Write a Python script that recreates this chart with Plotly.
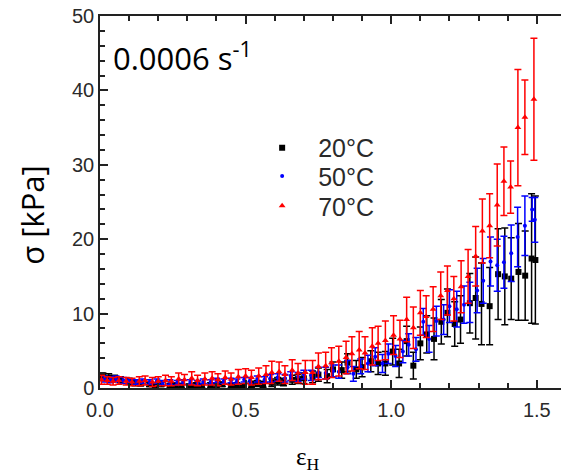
import plotly.graph_objects as go

# ---- data ----
series_names = ["20°C", "50°C", "70°C"]

x_20 = [0.01, 0.03, 0.05, 0.07, 0.10, 0.12, 0.14, 0.17,
        0.19, 0.21, 0.24, 0.26, 0.28, 0.31, 0.33, 0.35,
        0.38, 0.40, 0.42, 0.45, 0.47, 0.49, 0.52, 0.54,
        0.56, 0.59, 0.61, 0.63, 0.66, 0.68, 0.70, 0.73,
        0.75, 0.78, 0.80, 0.83, 0.85, 0.88, 0.90, 0.93,
        0.955, 0.98, 1.005, 1.027, 1.053, 1.076, 1.10, 1.122,
        1.147, 1.172, 1.193, 1.218, 1.238, 1.27, 1.29, 1.31,
        1.338, 1.367, 1.39, 1.412, 1.437, 1.46, 1.482, 1.495]
y_20 = [1.5, 1.4, 1.3, 1.1, 0.9, 0.7, 0.6, 0.5,
        0.4, 0.5, 0.3, 0.4, 0.3, 0.2, 0.4, 0.3,
        0.4, 0.3, 0.5, 0.3, 0.4, 0.2, 0.5, 0.6,
        0.5, 0.7, 0.9, 0.8, 1.1, 1.2, 1.3, 1.5,
        1.8, 1.6, 2.5, 2.4, 3.4, 2.5, 2.8, 3.6,
        3.3, 3.3, 4.9, 3.3, 6.3, 3.0, 6.0, 7.2,
        6.6, 8.9, 10.1, 8.6, 9.2, 11.4, 12.1, 11.3,
        11.0, 15.3, 15.0, 14.7, 15.6, 15.1, 17.4, 17.2]
e_20 = [0.5, 0.5, 0.4, 0.4, 0.4, 0.4, 0.3, 0.3,
        0.3, 0.3, 0.3, 0.3, 0.3, 0.3, 0.3, 0.3,
        0.3, 0.3, 0.3, 0.3, 0.3, 0.3, 0.4, 0.4,
        0.4, 0.5, 0.5, 0.5, 0.6, 0.6, 0.7, 0.8,
        0.9, 0.9, 1.0, 1.1, 1.2, 1.2, 1.3, 1.4,
        1.5, 1.6, 1.8, 1.9, 2.0, 1.8, 2.2, 2.5,
        2.8, 3.0, 3.2, 3.0, 3.2, 4.0, 5.5, 5.5,
        5.2, 6.1, 6.5, 5.5, 6.5, 6.0, 8.7, 8.6]

x_50 = [0.015, 0.035, 0.055, 0.080, 0.100, 0.125, 0.145, 0.170,
        0.195, 0.215, 0.240, 0.265, 0.285, 0.310, 0.335, 0.355,
        0.380, 0.400, 0.425, 0.450, 0.470, 0.495, 0.515, 0.540,
        0.565, 0.585, 0.610, 0.635, 0.655, 0.680, 0.700, 0.725,
        0.750, 0.775, 0.800, 0.820, 0.850, 0.870, 0.895, 0.920,
        0.945, 0.970, 0.990, 1.015, 1.040, 1.060, 1.085, 1.110,
        1.130, 1.155, 1.180, 1.200, 1.225, 1.250, 1.270, 1.295,
        1.316, 1.341, 1.364, 1.387, 1.412, 1.434, 1.459, 1.484,
        1.493]
y_50 = [1.2, 1.1, 1.2, 1.0, 0.9, 0.8, 0.9, 0.8,
        0.9, 0.7, 0.8, 0.7, 0.8, 0.8, 0.7, 0.9,
        0.8, 1.0, 0.9, 1.0, 0.9, 1.1, 1.0, 1.2,
        1.1, 1.3, 1.4, 1.3, 1.6, 1.5, 1.8, 1.7,
        2.1, 2.0, 2.3, 2.2, 2.8, 1.9, 2.9, 3.3,
        4.2, 3.3, 4.6, 4.3, 4.9, 5.8, 5.2, 8.9,
        6.6, 9.0, 9.2, 11.0, 10.6, 11.2, 11.5, 13.1,
        14.4, 17.0, 16.5, 16.9, 18.1, 20.3, 21.8, 24.0,
        22.6]
e_50 = [0.4, 0.4, 0.4, 0.4, 0.3, 0.3, 0.3, 0.3,
        0.3, 0.3, 0.3, 0.3, 0.3, 0.3, 0.3, 0.3,
        0.3, 0.3, 0.3, 0.3, 0.3, 0.3, 0.4, 0.4,
        0.4, 0.5, 0.5, 0.5, 0.6, 0.6, 0.6, 0.7,
        0.7, 0.8, 0.8, 0.9, 0.9, 1.0, 1.0, 1.1,
        1.2, 1.2, 1.3, 1.4, 1.5, 1.5, 1.6, 1.8,
        1.8, 2.0, 2.0, 2.2, 2.4, 2.5, 2.7, 3.0,
        3.0, 3.3, 3.5, 3.5, 3.8, 4.0, 4.0, 1.6,
        3.0]

x_70 = [0.005, 0.025, 0.045, 0.065, 0.090, 0.110, 0.135, 0.155,
        0.180, 0.200, 0.225, 0.245, 0.270, 0.290, 0.315, 0.335,
        0.360, 0.385, 0.405, 0.430, 0.450, 0.475, 0.500, 0.520,
        0.545, 0.570, 0.590, 0.615, 0.635, 0.660, 0.680, 0.705,
        0.730, 0.750, 0.775, 0.795, 0.820, 0.845, 0.865, 0.890,
        0.910, 0.935, 0.955, 0.980, 1.008, 1.030, 1.053, 1.076,
        1.100, 1.120, 1.144, 1.170, 1.193, 1.215, 1.240, 1.264,
        1.290, 1.313, 1.338, 1.364, 1.387, 1.410, 1.435, 1.459,
        1.490]
y_70 = [1.1, 1.0, 0.9, 1.0, 0.9, 0.8, 0.9, 1.0,
        0.8, 0.9, 1.0, 0.9, 1.2, 1.1, 1.3, 1.0,
        1.2, 1.3, 1.1, 1.4, 1.2, 1.5, 1.6, 1.4,
        1.6, 1.8, 2.1, 2.2, 1.8, 2.4, 2.0, 2.1,
        2.1, 2.9, 3.0, 3.4, 3.6, 4.1, 4.6, 5.1,
        4.7, 5.6, 6.0, 6.4, 7.1, 6.6, 9.2, 8.1,
        10.1, 9.6, 10.6, 12.4, 13.1, 12.0, 13.6, 15.0,
        17.7, 21.1, 21.8, 24.6, 27.8, 27.0, 35.0, 36.4,
        38.8]
e_70 = [0.6, 0.5, 0.5, 0.5, 0.5, 0.5, 0.6, 0.6,
        0.6, 0.6, 0.7, 0.6, 0.8, 0.7, 0.9, 0.7,
        0.8, 0.9, 0.8, 0.9, 0.8, 1.0, 1.0, 1.0,
        1.1, 1.2, 1.5, 1.3, 1.2, 1.4, 1.3, 1.6,
        1.6, 1.8, 1.8, 2.0, 2.0, 2.2, 2.3, 2.5,
        2.2, 2.5, 2.3, 2.6, 2.6, 2.5, 3.0, 2.8,
        3.0, 2.8, 3.0, 3.2, 3.3, 3.0, 3.5, 3.6,
        4.0, 4.3, 4.3, 5.5, 4.6, 3.5, 7.8, 5.0,
        8.2]

x_ticks = [0.0, 0.5, 1.0, 1.5]
y_ticks = [0, 10, 20, 30, 40, 50]

# ---- styles ----
styles = [
    dict(color="#000000", symbol="square", size=6),
    dict(color="#0000ff", symbol="circle", size=4),
    dict(color="#ff0000", symbol="triangle-up", size=6),
]
legend_ids = ["legend", "legend2", "legend3"]
legend_tops = [0.707, 0.631, 0.551]
AX = "#222222"

fig = go.Figure()
for name, xs, ys, es, st, lg in zip(series_names, [x_20, x_50, x_70],
                                    [y_20, y_50, y_70], [e_20, e_50, e_70],
                                    styles, legend_ids):
    fig.add_trace(go.Scatter(
        x=xs, y=ys, name=name, mode="markers", legend=lg,
        marker=dict(color=st["color"], symbol=st["symbol"], size=st["size"],
                    line=dict(width=0)),
        error_y=dict(type="data", array=es, visible=True, color=st["color"],
                     thickness=1.5, width=3.5),
    ))

tickfont = dict(family="Liberation Sans, Arial, sans-serif", size=20, color="#2a2a2a")

fig.update_layout(
    xaxis=dict(range=[0, 1.583], tickvals=x_ticks, tickformat=".1f",
               showline=True, linecolor=AX, linewidth=1.5, mirror="allticks",
               ticks="inside", ticklen=8, tickwidth=1.5, tickcolor=AX,
               ticklabelstandoff=3, showgrid=False, zeroline=False,
               ticklabeloverflow="allow", tickfont=tickfont,
               minor=dict(ticks="inside", dtick=0.1, tick0=0, ticklen=5,
                          tickwidth=1.5, tickcolor=AX)),
    yaxis=dict(range=[0, 50], tickvals=y_ticks,
               showline=True, linecolor=AX, linewidth=1.5, mirror=False,
               ticks="inside", ticklen=8, tickwidth=1.5, tickcolor=AX,
               showgrid=False, zeroline=False,
               ticklabeloverflow="allow", tickfont=tickfont,
               minor=dict(ticks="inside", dtick=2, tick0=0, ticklen=5,
                          tickwidth=1.5, tickcolor=AX)),
    # right-hand tick marks only (the frame's right edge lies beyond the picture)
    yaxis2=dict(overlaying="y", side="right", matches="y", range=[0, 50],
                tickvals=y_ticks, showticklabels=False, showline=False,
                ticks="inside", ticklen=8, tickwidth=1.5, tickcolor=AX,
                showgrid=False, zeroline=False,
                minor=dict(ticks="inside", dtick=2, tick0=0, ticklen=5,
                           tickwidth=1.5, tickcolor=AX)),
)

fig.add_annotation(text="0.0006 s<sup>-1</sup>", xref="paper", yref="paper",
                   x=0.024, y=0.89, xanchor="left", yanchor="middle",
                   showarrow=False,
                   font=dict(family="Open Sans, sans-serif", size=31, color="#000000"))
fig.add_annotation(text="σ [kPa]", xref="paper", yref="paper",
                   x=-0.148, y=0.465, xanchor="center", yanchor="middle",
                   textangle=-90, showarrow=False,
                   font=dict(family="Open Sans, sans-serif", size=31, color="#000000"))
fig.add_annotation(text="ε<sub>H</sub>", xref="paper", yref="paper",
                   x=0.452, y=-0.19, xanchor="center", yanchor="middle",
                   showarrow=False,
                   font=dict(family="Liberation Serif, serif", size=25, color="#000000"))

legend_common = dict(xanchor="left", yanchor="top", bgcolor="rgba(0,0,0,0)",
                     borderwidth=0, itemwidth=62,
                     font=dict(family="Liberation Sans, Arial, sans-serif",
                               size=25, color="#2a2a2a"))

fig.update_layout(
    width=561, height=474, autosize=False,
    margin=dict(l=100, r=0, t=16, b=86),
    paper_bgcolor="white", plot_bgcolor="white",
    showlegend=True,
    legend=dict(x=0.317, y=legend_tops[0], **legend_common),
    legend2=dict(x=0.317, y=legend_tops[1], **legend_common),
    legend3=dict(x=0.317, y=legend_tops[2], **legend_common),
)

fig.write_html("out.html",
               config={"displayModeBar": False},
               post_script="document.body.style.margin='0';"
                           "document.body.style.overflow='hidden';"
                           "document.documentElement.style.overflow='hidden';")
